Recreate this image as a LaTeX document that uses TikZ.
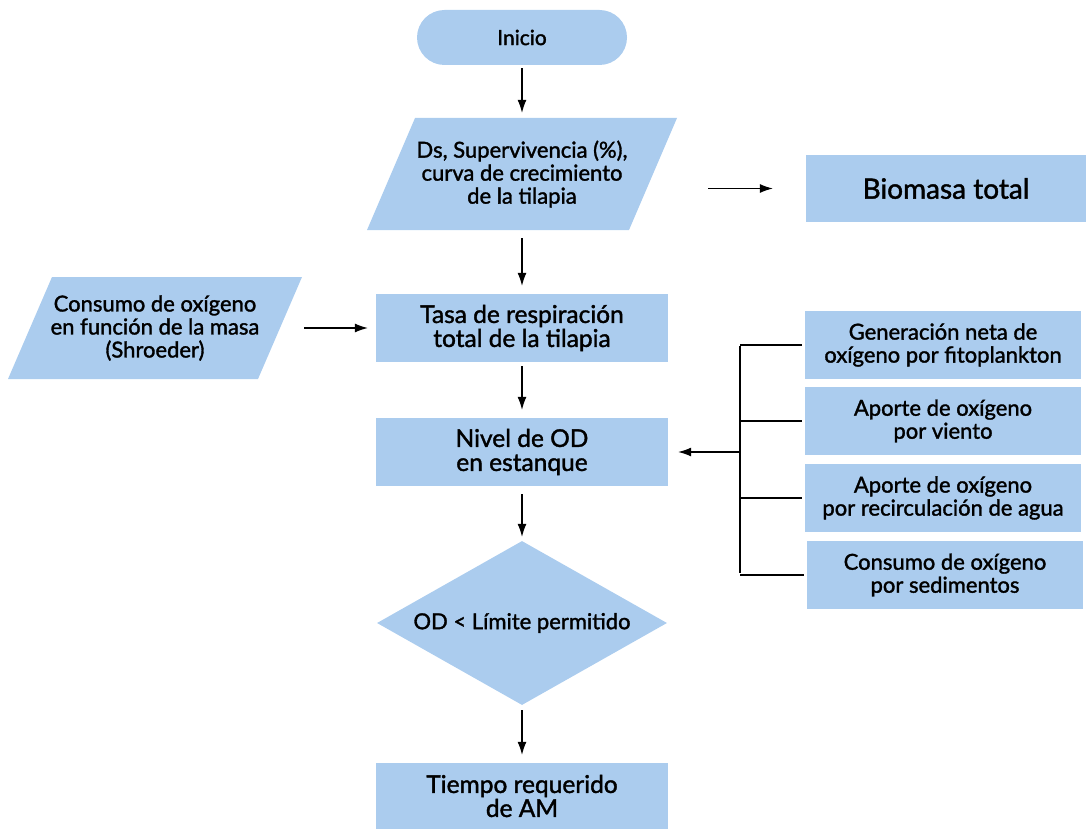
\documentclass[tikz,border=0pt]{standalone}
\usepackage{fontspec}
\setmainfont{Lato}[RawFeature={embolden=1.5}]
\usetikzlibrary{arrows.meta,shapes.geometric}

\definecolor{celeste}{RGB}{171,204,238}

\tikzset{
  caja/.style={fill=celeste, minimum width=292pt, minimum height=68pt, align=center,
    inner sep=0pt, font=\fontsize{24.5}{24}\selectfont},
  cajita/.style={fill=celeste, minimum width=276pt, minimum height=68pt, align=center,
    inner sep=0pt, font=\fontsize{22}{23}\selectfont},
  datos/.style={minimum height=102pt, align=center, inner sep=0pt,
    font=\fontsize{22}{23}\selectfont,
    path picture={\fill[celeste] ([xshift=#1]path picture bounding box.north west)
      -- (path picture bounding box.north east)
      -- ([xshift=-#1]path picture bounding box.south east)
      -- (path picture bounding box.south west) -- cycle;}},
  flecha/.style={-{Latex[length=13pt,width=9pt]}, line width=1.1pt},
  rama/.style={line width=1.1pt}
}

\begin{document}
\begin{tikzpicture}[x=1pt, y=-1pt]
  \useasboundingbox (0,0) rectangle (1086,829);

  % eje central
  \node[caja, minimum width=210pt, minimum height=55pt, rounded corners=27.5pt,
    font=\fontsize{21}{24}\selectfont] (inicio) at (522,37.5) {Inicio};
  \node[datos=48pt, minimum width=310pt, minimum height=112pt] (entrada) at (522,174)
    {Ds, Supervivencia (\%),\\curva de crecimiento\\de la tilapia};
  \node[caja, minimum width=280pt, minimum height=67pt,
    font=\fontsize{28}{24}\selectfont] (biomasa) at (946,188.5) {Biomasa total};
  \node[caja] (tasa) at (522,328) {Tasa de respiración\\total de la tilapia};
  \node[datos=44pt, minimum width=294pt] (consumo) at (155,328)
    {Consumo de oxígeno\\en función de la masa\\(Shroeder)};
  \node[caja] (nivel) at (522,452) {Nivel de OD\\en estanque};
  \node[diamond, aspect=1.768, fill=celeste, inner sep=0pt, minimum width=290pt, minimum height=164pt,
    font=\fontsize{22}{23}\selectfont] (decision) at (522,623) {OD < Límite permitido};
  \node[caja, minimum height=66pt] (tiempo) at (522,796) {Tiempo requerido\\de AM};

  % aportes de oxigeno
  \node[cajita] (g1) at (943,345) {Generación neta de\\oxígeno por fitoplankton};
  \node[cajita] (g2) at (943,421) {Aporte de oxígeno\\por viento};
  \node[cajita] (g3) at (943,498) {Aporte de oxígeno\\por recirculación de agua};
  \node[cajita] (g4) at (945,575) {Consumo de oxígeno\\por sedimentos};

  % flechas
  \draw[flecha, shorten <=3pt, shorten >=5pt] (inicio) -- (entrada);
  \draw[flecha, shorten <=8pt, shorten >=8pt] (entrada) -- (tasa);
  \draw[flecha, shorten <=4pt, shorten >=8pt] (tasa) -- (nivel);
  \draw[flecha, shorten <=8pt, shorten >=4pt] (nivel) -- (decision);
  \draw[flecha, shorten <=5pt, shorten >=8pt] (decision) -- (tiempo);
  \draw[flecha, shorten <=2pt, shorten >=8pt] (consumo) -- (tasa);
  \draw[flecha, shorten <=31pt, shorten >=33pt] (entrada.east |- biomasa) -- (biomasa);

  % bus
  \coordinate (busA) at (740,346);
  \coordinate (busB) at (740,573);
  \draw[rama] (busA) -- (busB);
  \foreach \g in {g1,g2,g3,g4} \draw[rama, shorten <=3pt] (\g.west) -- (\g.west -| busA);
  \draw[flecha, shorten >=10pt] (busA |- nivel) -- (nivel);

\end{tikzpicture}
\end{document}
